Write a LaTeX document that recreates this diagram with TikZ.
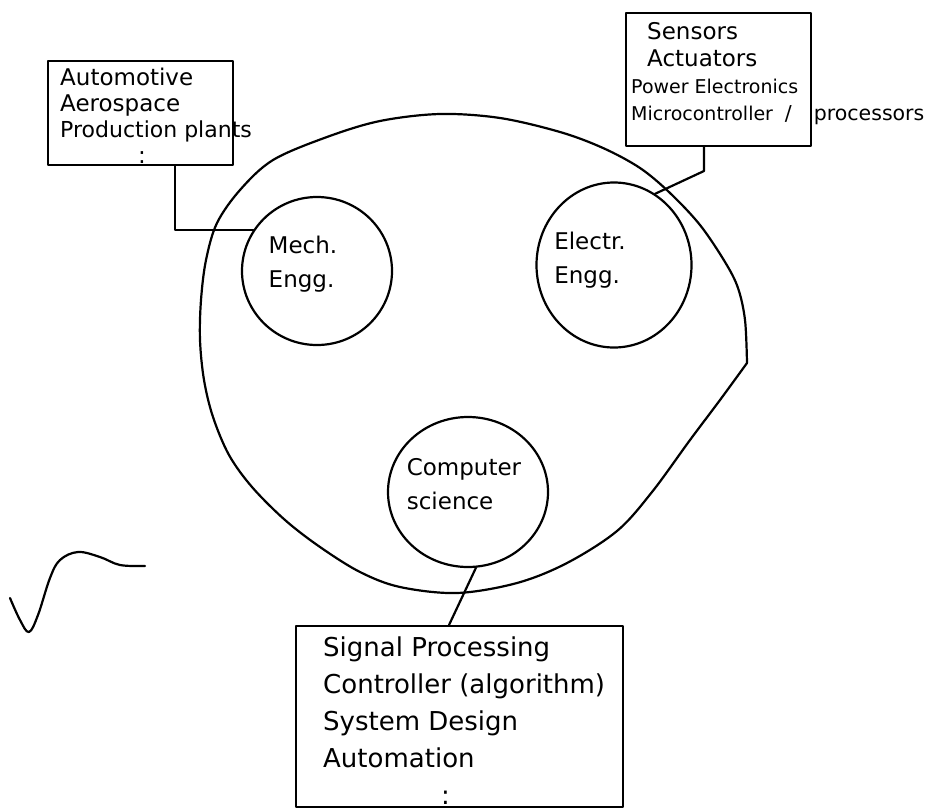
\documentclass[tikz,border=0pt]{standalone}
\usepackage{fontspec}
\setmainfont{DejaVu Sans}
\usetikzlibrary{shapes.geometric,calc}

\tikzset{
  ink/.style={draw=black, line width=2.2pt, line cap=round, line join=round},
  listbox/.style={ink, rectangle, inner sep=0pt, anchor=north west},
  field/.style={ink, ellipse, inner sep=0pt},
  hand/.style={align=left, inner sep=0pt, anchor=north west},
  fieldname/.style={align=left, inner sep=0pt, font=\fontsize{23}{34}\selectfont},
}

\begin{document}
\begin{tikzpicture}[x=1pt,y=-1pt]
\useasboundingbox (0,0) rectangle (933,811);
\fill[white] (0,0) rectangle (933,811);

% outer field: mechatronics as a whole (sharp bend on the right)
\draw[ink] plot[smooth, tension=0.55] coordinates {
  (747,363) (745,320) (738,288) (725,262) (700,225) (670,193) (640,168)
  (603,148) (560,132) (500,118) (440,114) (380,121) (327,137) (273,160)
  (240,190) (217,223) (206,260) (201,300) (200,340) (204,380) (213,417)
  (229,455) (252,487) (285,520) (320,547) (360,572) (400,587) (457,593)
  (517,583) (567,563) (617,531) (652,492) (690,440) (720,400) (747,363)};

% the three disciplines
\node[field, minimum width=150pt, minimum height=148pt] (mech) at (317,271) {};
\node[fieldname] (mechname) at (303,264) {Mech.\\Engg.};

\node[field, minimum width=155pt, minimum height=165pt] (elec) at (614,265) {};
\node[fieldname] (elecname) at (590,260) {Electr.\\Engg.};

\node[field, minimum width=160pt, minimum height=150pt] (cs) at (468,492) {};
\node[fieldname] (csname) at (464,484) {Computer\\science};

% application areas
\node[listbox, minimum width=185pt, minimum height=104pt] (apps) at (47,60) {};
\node[hand, font=\fontsize{23}{26}\selectfont] (appstext) at (60,68)
  {Automotive\\Aerospace\\{\fontsize{22}{26}\selectfont Production plants}\\\hspace*{78pt}:};

% hardware components
\node[listbox, minimum width=185pt, minimum height=133pt] (hw) at (625,12) {};
\node[hand, font=\fontsize{19}{27}\selectfont] (hwtext) at (631,22)
  {\hspace*{16pt}{\fontsize{23}{27}\selectfont Sensors}\\
   \hspace*{16pt}{\fontsize{23}{27}\selectfont Actuators}\\
   Power Electronics\\
   Microcontroller\hspace{12pt}{\fontsize{20.5}{27}\selectfont/\hspace{22pt}processors}};

% software side
\node[listbox, minimum width=327pt, minimum height=181pt] (sw) at (295,625) {};
\node[hand, font=\fontsize{26}{37}\selectfont] (swtext) at (323,637)
  {Signal Processing\\Controller (algorithm)\\System Design\\Automation\\\hspace*{118pt}:};

% connectors
\coordinate (abend) at (175,228);
\draw[ink] (apps.south -| abend) |- (mech.147);

\coordinate (sbend) at (704,171);
\draw[ink] (hw.south -| sbend) -- (sbend) -- (elec.60);

\coordinate (swtop) at (449,625);
\draw[ink] (cs.276) -- (swtop);

% tick mark
\draw[ink] plot[smooth, tension=0.6] coordinates {
  (10,598) (20,620) (29,632) (38,615) (50,578) (60,560) (78,552)
  (100,557) (120,565) (145,566)};
\end{tikzpicture}
\end{document}
